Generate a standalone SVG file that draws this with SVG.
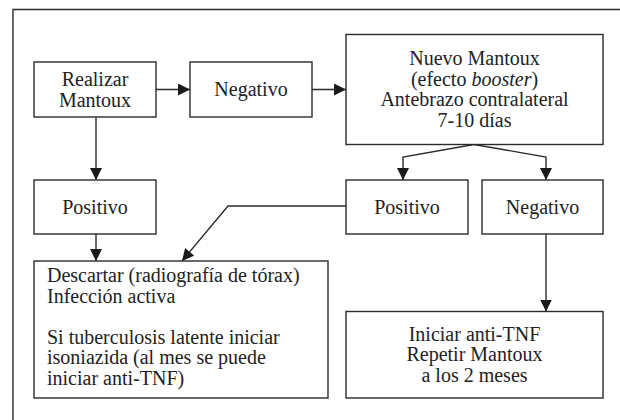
<svg xmlns="http://www.w3.org/2000/svg" width="620" height="420" viewBox="0 0 620 420">
<style>
.box{fill:#fff;stroke:#2b2b2b;stroke-width:1.4}
.ln{fill:none;stroke:#2b2b2b;stroke-width:1.4}
text{font-family:"Liberation Serif","Times New Roman",serif;font-size:20px;fill:#222}
.c{text-anchor:middle}
</style>
<defs>
<marker id="ah" markerUnits="userSpaceOnUse" markerWidth="12" markerHeight="12" viewBox="0 0 12 12" refX="12" refY="6" orient="auto">
<path d="M0,0 L12,6 L0,12 z" fill="#1a1a1a"/>
</marker>
</defs>
<rect width="620" height="420" fill="#fff"/>
<path class="ln" d="M13,420 V9.5 H620"/>
<g id="connectors">
<line class="ln" x1="156" y1="89.5" x2="190" y2="89.5" marker-end="url(#ah)"/>
<line class="ln" x1="312" y1="89.5" x2="346" y2="89.5" marker-end="url(#ah)"/>
<line class="ln" x1="96" y1="117" x2="96" y2="180" marker-end="url(#ah)"/>
<line class="ln" x1="96" y1="234" x2="96" y2="261" marker-end="url(#ah)"/>
<polyline class="ln" points="474,144.5 403,157 403,180" marker-end="url(#ah)"/>
<polyline class="ln" points="474,144.5 546,157 546,180" marker-end="url(#ah)"/>
<polyline class="ln" points="346,206 228,206 182,261" marker-end="url(#ah)"/>
<line class="ln" x1="546" y1="234" x2="546" y2="311.5" marker-end="url(#ah)"/>
</g>
<g id="realizar">
<rect class="box" x="34" y="62" width="122" height="55"/>
<text class="c" x="95" y="85.5">Realizar</text>
<text class="c" x="95" y="106.5">Mantoux</text>
</g>
<g id="negativo1">
<rect class="box" x="190" y="62" width="122" height="55"/>
<text class="c" x="251" y="96">Negativo</text>
</g>
<g id="nuevo">
<rect class="box" x="346" y="34.5" width="257" height="110"/>
<text class="c" x="474.5" y="64.5">Nuevo Mantoux</text>
<text class="c" x="474.5" y="85.5">(efecto <tspan font-style="italic">booster</tspan>)</text>
<text class="c" x="474.5" y="106">Antebrazo contralateral</text>
<text class="c" x="474.5" y="127">7-10 días</text>
</g>
<g id="positivo1">
<rect class="box" x="34" y="180" width="122" height="54"/>
<text class="c" x="95" y="213.5">Positivo</text>
</g>
<g id="positivo2">
<rect class="box" x="346" y="180" width="122" height="54"/>
<text class="c" x="407" y="213.5">Positivo</text>
</g>
<g id="negativo2">
<rect class="box" x="482" y="180" width="121" height="54"/>
<text class="c" x="542.5" y="213.5">Negativo</text>
</g>
<g id="descartar">
<rect class="box" x="34" y="261" width="294" height="137"/>
<text x="47" y="281.5">Descartar (radiografía de tórax)</text>
<text x="47" y="302.5">Infección activa</text>
<text x="47" y="343.5">Si tuberculosis latente iniciar</text>
<text x="47" y="364">isoniazida (al mes se puede</text>
<text x="47" y="384.5">iniciar anti-TNF)</text>
</g>
<g id="iniciar">
<rect class="box" x="346" y="311.5" width="257" height="86.5"/>
<text class="c" x="474.5" y="340.5">Iniciar anti-TNF</text>
<text class="c" x="474.5" y="361">Repetir Mantoux</text>
<text class="c" x="474.5" y="381.5">a los 2 meses</text>
</g>
</svg>
